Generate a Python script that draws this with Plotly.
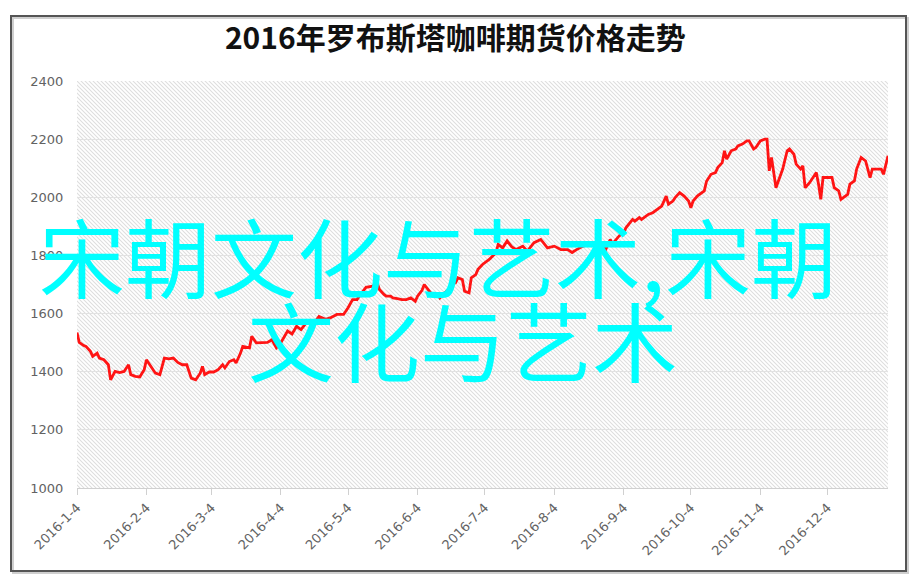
import base64
import plotly.graph_objects as go

# ---------------- data ----------------
dates = [
    "2016-01-04","2016-01-05","2016-01-07","2016-01-08","2016-01-10","2016-01-11","2016-01-13","2016-01-14","2016-01-16","2016-01-18",
    "2016-01-19","2016-01-21","2016-01-23","2016-01-25","2016-01-27","2016-01-28","2016-01-30","2016-02-01","2016-02-03","2016-02-04",
    "2016-02-06","2016-02-08","2016-02-10","2016-02-12","2016-02-14","2016-02-16","2016-02-18","2016-02-20","2016-02-22","2016-02-24",
    "2016-02-26","2016-02-28","2016-02-29","2016-03-01","2016-03-03","2016-03-05","2016-03-07","2016-03-09","2016-03-10","2016-03-12",
    "2016-03-14","2016-03-15","2016-03-17","2016-03-18","2016-03-21","2016-03-22","2016-03-24","2016-03-26","2016-03-29","2016-03-31",
    "2016-04-02","2016-04-04","2016-04-07","2016-04-09","2016-04-11","2016-04-13","2016-04-16","2016-04-19","2016-04-21","2016-04-24",
    "2016-04-26","2016-04-29","2016-05-02","2016-05-04","2016-05-06","2016-05-08","2016-05-09","2016-05-12","2016-05-15","2016-05-17",
    "2016-05-18","2016-05-20","2016-05-21","2016-05-23","2016-05-24","2016-05-26","2016-05-28","2016-05-30","2016-06-01","2016-06-03",
    "2016-06-04","2016-06-06","2016-06-07","2016-06-09","2016-06-11","2016-06-13","2016-06-14","2016-06-16","2016-06-18","2016-06-19",
    "2016-06-21","2016-06-22","2016-06-24","2016-06-25","2016-06-27","2016-06-28","2016-06-30","2016-07-01","2016-07-03","2016-07-06",
    "2016-07-09","2016-07-10","2016-07-12","2016-07-14","2016-07-16","2016-07-18","2016-07-21","2016-07-23","2016-07-26","2016-07-29",
    "2016-07-30","2016-08-01","2016-08-04","2016-08-07","2016-08-10","2016-08-12","2016-08-14","2016-08-17","2016-08-20","2016-08-23",
    "2016-08-25","2016-08-27","2016-08-29","2016-08-30","2016-09-02","2016-09-04","2016-09-05","2016-09-08","2016-09-09","2016-09-11",
    "2016-09-12","2016-09-14","2016-09-15","2016-09-17","2016-09-18","2016-09-20","2016-09-21","2016-09-23","2016-09-24","2016-09-26",
    "2016-09-27","2016-09-29","2016-10-01","2016-10-03","2016-10-04","2016-10-05","2016-10-07","2016-10-10","2016-10-11","2016-10-13",
    "2016-10-15","2016-10-16","2016-10-18","2016-10-19","2016-10-20","2016-10-22","2016-10-24","2016-10-25","2016-10-27","2016-10-29",
    "2016-10-30","2016-11-01","2016-11-02","2016-11-04","2016-11-06","2016-11-07","2016-11-08","2016-11-09","2016-11-11","2016-11-14",
    "2016-11-16","2016-11-17","2016-11-19","2016-11-20","2016-11-22","2016-11-23","2016-11-24","2016-11-26","2016-11-29","2016-11-30",
    "2016-12-01","2016-12-02","2016-12-04","2016-12-06","2016-12-07","2016-12-09","2016-12-10","2016-12-13","2016-12-14","2016-12-16",
    "2016-12-17","2016-12-19","2016-12-21","2016-12-23","2016-12-24","2016-12-26","2016-12-28","2016-12-29","2016-12-31",
]

prices = [
    1535,1501,1490,1487,1470,1453,1464,1447,1441,1424,
    1372,1401,1397,1401,1424,1390,1384,1382,1407,1441,
    1418,1395,1390,1447,1444,1447,1432,1424,1424,1378,
    1372,1395,1418,1390,1399,1399,1407,1424,1413,1435,
    1441,1430,1464,1487,1482,1522,1499,1499,1501,1510,
    1482,1500,1540,1530,1556,1545,1575,1570,1590,1580,
    1585,1597,1597,1620,1648,1648,1660,1690,1694,1706,
    1683,1666,1660,1660,1654,1651,1648,1648,1654,1642,
    1660,1680,1700,1680,1660,1666,1654,1671,1683,1700,
    1706,1723,1717,1677,1671,1723,1734,1752,1769,1786,
    1809,1838,1826,1850,1830,1820,1832,1815,1844,1855,
    1844,1826,1832,1820,1820,1810,1820,1832,1840,1832,
    1832,1820,1855,1840,1867,1878,1895,1924,1918,1930,
    1924,1936,1941,1947,1953,1964,1970,2004,1976,1987,
    1999,2016,2004,1987,1964,1987,2005,2022,2055,2079,
    2085,2102,2119,2160,2131,2160,2166,2177,2183,2194,
    2194,2166,2171,2194,2200,2200,2091,2137,2033,2097,
    2160,2166,2148,2114,2097,2108,2033,2050,2085,2045,
    1993,2068,2068,2068,2033,2022,1993,2010,2045,2056,
    2097,2137,2125,2068,2097,2097,2097,2079,2143,
]

tick_dates = ["2016-01-04","2016-02-04","2016-03-04","2016-04-04","2016-05-04","2016-06-04",
              "2016-07-04","2016-08-04","2016-09-04","2016-10-04","2016-11-04","2016-12-04"]
tick_labels = ["2016-1-4","2016-2-4","2016-3-4","2016-4-4","2016-5-4","2016-6-4",
               "2016-7-4","2016-8-4","2016-9-4","2016-10-4","2016-11-4","2016-12-4"]
y_ticks = [1000, 1200, 1400, 1600, 1800, 2000, 2200, 2400]

title_text = "2016年罗布斯塔咖啡期货价格走势"
overlay_line1 = "宋朝文化与艺术,宋朝"
overlay_line2 = "文化与艺术"

# ---------------- layout geometry ----------------
W, H = 918, 583
ML, MR, MT, MB = 77, 30, 81, 95
PW, PH = W - ML - MR, H - MT - MB


def px_x(px):
    return (px - ML) / PW


def px_y(py):
    return (H - MB - py) / PH


# diagonal hatch background as an SVG image
svg = (
    f'<svg xmlns="http://www.w3.org/2000/svg" width="{PW}" height="{PH}" viewBox="0 0 {PW} {PH}">'
    '<defs><pattern id="h" patternUnits="userSpaceOnUse" width="4" height="4">'
    '<path d="M-1,-1 L5,5 M-1,3 L1,5 M3,-1 L5,1" stroke="#dedede" stroke-width="1.1"/>'
    '</pattern></defs>'
    f'<rect width="{PW}" height="{PH}" fill="#ffffff"/>'
    f'<rect width="{PW}" height="{PH}" fill="url(#h)"/>'
    '</svg>'
)
svg_uri = "data:image/svg+xml;base64," + base64.b64encode(svg.encode()).decode()

fig = go.Figure()
fig.add_trace(go.Scatter(
    x=dates, y=prices, mode="lines",
    line=dict(color="#ff1414", width=2.8),
    hoverinfo="x+y", showlegend=False,
))

label_font = dict(family="DejaVu Sans, Arial", size=13, color="#626262")

fig.update_layout(
    width=W, height=H,
    margin=dict(l=ML, r=MR, t=MT, b=MB, autoexpand=False),
    paper_bgcolor="white",
    plot_bgcolor="rgba(0,0,0,0)",
    title=dict(
        text=title_text, x=0.496, xanchor="center", y=1 - 38 / H, yanchor="middle",
        font=dict(family="Noto Sans CJK SC", size=30, color="#111111", weight="bold"),
    ),
    xaxis=dict(
        type="date", range=["2016-01-04", "2016-12-31"],
        tickvals=tick_dates, ticktext=tick_labels, tickangle=-45,
        tickfont=label_font,
        showgrid=False, zeroline=False,
        showline=True, linecolor="#d0d0d0", linewidth=1,
        ticks="outside", ticklen=6, tickcolor="#d0d0d0", tickwidth=1,
    ),
    yaxis=dict(
        range=[1000, 2400], tickvals=y_ticks,
        tickfont=label_font,
        showgrid=True, gridcolor="#e2e2e2", gridwidth=1.2,
        zeroline=False, showline=False,
        ticks="outside", ticklen=10, tickcolor="rgba(0,0,0,0)",
    ),
    images=[dict(
        source=svg_uri, xref="paper", yref="paper", x=0, y=1, sizex=1, sizey=1,
        xanchor="left", yanchor="top", sizing="stretch", layer="below",
    )],
    shapes=[
        dict(type="rect", xref="paper", yref="paper",
             x0=px_x(13), x1=px_x(908), y0=px_y(573), y1=px_y(18),
             line=dict(color="#cfcfcf", width=2), layer="below"),
        dict(type="rect", xref="paper", yref="paper",
             x0=px_x(11), x1=px_x(906), y0=px_y(571), y1=px_y(16),
             line=dict(color="#555555", width=2), layer="above"),
    ],
    annotations=[
        dict(text=overlay_line1, xref="paper", yref="paper",
             x=px_x(37), y=px_y(254), xanchor="left", yanchor="middle",
             showarrow=False,
             font=dict(family="Noto Sans CJK SC", size=86, color="#00ffff")),
        dict(text=overlay_line2, xref="paper", yref="paper",
             x=px_x(246), y=px_y(338), xanchor="left", yanchor="middle",
             showarrow=False,
             font=dict(family="Noto Sans CJK SC", size=86, color="#00ffff")),
    ],
)

fig.write_html(
    "out.html",
    config={"displayModeBar": False},
    post_script="document.body.style.margin='0';document.body.style.padding='0';",
)
